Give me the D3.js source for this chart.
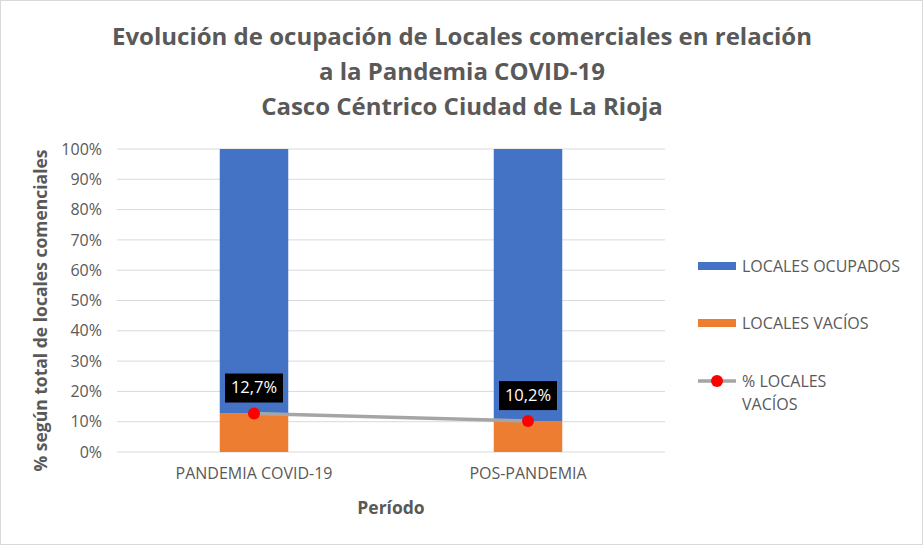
<!DOCTYPE html>
<html>
<head>
<meta charset="utf-8">
<script src="https://cdn.jsdelivr.net/npm/d3@7"></script>
<style>
  body { margin: 0; background: #fff; }
  text { font-family: "Open Sans", "Noto Sans", sans-serif; }
</style>
</head>
<body>
<div id="vis"></div>
<script>
// data
const categories = ['PANDEMIA COVID-19', 'POS-PANDEMIA'];
const vacios = [12.7, 10.2];
const ocupados = [87.3, 89.8];
const pctVacios = [12.7, 10.2];
const yTicks = [0, 10, 20, 30, 40, 50, 60, 70, 80, 90, 100];
const titleLines = ['Evolución de ocupación de Locales comerciales en relación',
  'a la Pandemia COVID-19', 'Casco Céntrico Ciudad de La Rioja'];

const W = 923, H = 545;
const margin = {top: 149, right: 258, bottom: 93, left: 117};
const width = W - margin.left - margin.right;
const height = H - margin.top - margin.bottom;

const root = d3.select('#vis').append('svg')
  .attr('width', W).attr('height', H);

root.append('rect')
  .attr('x', 0.5).attr('y', 0.5).attr('width', W - 1).attr('height', H - 1)
  .attr('fill', '#fff').attr('stroke', '#d9d9d9');

// title
root.append('text')
  .attr('text-anchor', 'middle')
  .style('font-size', '24px').style('font-weight', 'bold').attr('fill', '#595959')
  .selectAll('tspan').data(titleLines).join('tspan')
  .attr('x', 462).attr('y', (d, i) => 45 + i * 35)
  .text(d => d);

const svg = root.append('g')
  .attr('transform', `translate(${margin.left},${margin.top})`);

const x = d3.scaleBand().domain(categories).range([0, width]);
const y = d3.scaleLinear().domain([0, 100]).range([height, 0]);
const barW = x.bandwidth() * 0.25;

// gridlines
svg.selectAll('.grid').data(yTicks).join('line')
  .attr('x1', 0).attr('x2', width)
  .attr('y1', d => y(d)).attr('y2', d => y(d))
  .attr('stroke', '#d9d9d9').attr('stroke-width', 1);

// y axis labels
const yAxis = d3.axisLeft(y).tickValues(yTicks).tickFormat(d => d + '%').tickSize(0).tickPadding(15);
svg.append('g').call(yAxis)
  .call(g => g.select('.domain').remove())
  .selectAll('text')
  .style('font-size', '16px').attr('fill', '#595959')
  .style('font-family', '"Open Sans", sans-serif');

// x axis labels
const xAxis = d3.axisBottom(x).tickSize(0).tickPadding(16);
svg.append('g').attr('transform', `translate(0,${height})`).call(xAxis)
  .call(g => g.select('.domain').remove())
  .selectAll('text')
  .style('font-size', '16px').attr('fill', '#595959')
  .style('font-family', '"Open Sans", sans-serif');

// stacked bars
const stack = categories.map((c, i) => ({c, v: vacios[i], o: ocupados[i]}));
svg.selectAll('.vac').data(stack).join('rect')
  .attr('x', d => x(d.c) + (x.bandwidth() - barW) / 2)
  .attr('width', barW)
  .attr('y', d => y(d.v))
  .attr('height', d => y(0) - y(d.v))
  .attr('fill', '#ed7d31');
svg.selectAll('.ocu').data(stack).join('rect')
  .attr('x', d => x(d.c) + (x.bandwidth() - barW) / 2)
  .attr('width', barW)
  .attr('y', d => y(d.v + d.o))
  .attr('height', d => y(d.v) - y(d.v + d.o))
  .attr('fill', '#4472c4');

// line
const cx = c => x(c) + x.bandwidth() / 2;
const line = d3.line().x(d => cx(d.c)).y(d => y(d.p));
const pts = categories.map((c, i) => ({c, p: pctVacios[i]}));
svg.append('path').datum(pts)
  .attr('d', line).attr('fill', 'none')
  .attr('stroke', '#a5a5a5').attr('stroke-width', 3.5);
svg.selectAll('.dot').data(pts).join('circle')
  .attr('cx', d => cx(d.c)).attr('cy', d => y(d.p)).attr('r', 6)
  .attr('fill', '#ff0000');

// data labels
const lab = svg.selectAll('.lab').data(pts).join('g')
  .attr('transform', d => `translate(${cx(d.c)},${y(d.p) - 26})`);
lab.append('rect')
  .attr('x', -29).attr('y', -14).attr('width', 58).attr('height', 29)
  .attr('fill', '#000');
lab.append('text')
  .attr('text-anchor', 'middle').attr('dy', '0.35em')
  .style('font-size', '16.5px').attr('fill', '#fff')
  .text(d => d.p.toFixed(1).replace('.', ',') + '%');

// axis titles
svg.append('text')
  .attr('x', width / 2).attr('y', height + 62)
  .attr('text-anchor', 'middle')
  .style('font-size', '17.5px').style('font-weight', 'bold').attr('fill', '#595959')
  .text('Período');
svg.append('text')
  .attr('transform', 'rotate(-90)')
  .attr('x', -height / 2 - 10).attr('y', -70)
  .attr('text-anchor', 'middle')
  .style('font-size', '17.5px').style('font-weight', 'bold').attr('fill', '#595959')
  .text('% según total de locales comenciales');

// legend
const legend = root.append('g').attr('transform', 'translate(698,0)');
const legItems = [
  {label: ['LOCALES OCUPADOS'], color: '#4472c4', y: 266, type: 'bar'},
  {label: ['LOCALES VACÍOS'], color: '#ed7d31', y: 323, type: 'bar'},
  {label: ['% LOCALES', 'VACÍOS'], color: '#a5a5a5', y: 381, type: 'line'}
];
legItems.forEach(d => {
  if (d.type === 'bar') {
    legend.append('rect').attr('x', 0).attr('y', d.y - 4).attr('width', 38).attr('height', 8)
      .attr('fill', d.color);
  } else {
    legend.append('line').attr('x1', 0).attr('x2', 38).attr('y1', d.y).attr('y2', d.y)
      .attr('stroke', d.color).attr('stroke-width', 3.5);
    legend.append('circle').attr('cx', 19).attr('cy', d.y).attr('r', 6).attr('fill', '#ff0000');
  }
  legend.append('text')
    .style('font-size', '16px').attr('fill', '#595959')
    .selectAll('tspan').data(d.label).join('tspan')
    .attr('x', 44).attr('y', (t, i) => d.y + 6 + i * 23)
    .text(t => t);
});
</script>
</body>
</html>
